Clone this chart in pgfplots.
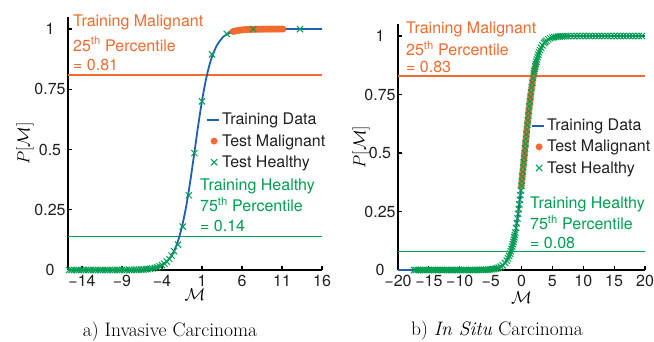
\documentclass[border=0pt]{standalone}
\usepackage{fontspec}
\usepackage{pgfplots}
\pgfplotsset{compat=1.18}
\newfontfamily\hv{TeX Gyre Heros}
\definecolor{myblue}{RGB}{30,95,175}
\definecolor{myorange}{RGB}{242,106,45}
\definecolor{mygreen}{RGB}{0,158,80}
\definecolor{txt}{RGB}{35,31,32}
\newcommand{\sz}{\fontsize{16}{19}\selectfont}

\pgfplotstableread{
M P
-15.75 0
-10 0
-8 0.0005
-6 0.0030
-5 0.0078
-4.5 0.0125
-4 0.0199
-3.5 0.0317
-3 0.050
-2.5 0.078
-2 0.120
-1.5 0.180
-1 0.260
-0.5 0.361
0 0.476
0.5 0.594
1 0.702
1.5 0.791
2 0.859
2.5 0.907
3 0.940
3.5 0.962
4 0.976
5 0.9906
6 0.9963
8 0.9995
10 1
16 1
}\trainA

\pgfplotstableread{
M P
4.9 0.990
5.1 0.9915
5.3 0.993
5.5 0.994
5.7 0.995
5.9 0.996
6.1 0.9967
6.3 0.9973
6.5 0.9978
6.7 0.9981
6.9 0.9985
7.1 0.9987
7.3 0.999
7.5 0.9992
7.7 0.9993
7.9 0.9994
8.1 0.9995
8.3 0.9996
8.5 0.9997
8.7 0.9997
8.9 0.9998
9.1 0.9998
9.3 0.9998
9.5 0.9999
9.7 0.9999
9.9 0.9999
10.1 1
10.3 1
10.5 1
10.7 1
10.9 1
11.1 1
}\maligA

\pgfplotstableread{
M P
-15.6 0
-15.3 0
-15.0 0
-14.7 0
-14.4 0
-14.1 0
-13.8 0
-13.5 0
-13.2 0
-12.9 0
-12.6 0
-12.3 0
-12.0 0
-11.7 0
-11.4 0
-11.1 0
-10.8 0
-10.5 0
-10.2 0
-9.9 0
-9.6 0.0001
-9.3 0.0001
-9.0 0.0002
-8.7 0.0002
-8.4 0.0003
-8.1 0.0004
-7.8 0.0005
-7.5 0.0007
-7.2 0.0009
-6.9 0.0013
-6.6 0.0017
-6.3 0.0023
-6.0 0.0030
-5.8 0.0037
-5.5 0.0049
-5.2 0.0065
-4.9 0.0086
-4.6 0.0114
-4.3 0.0151
-4.0 0.0199
-3.7 0.0263
-3.4 0.0347
-3.1 0.0457
-2.8 0.0598
-2.5 0.078
-2.0 0.105
-1.4 0.18
-0.65 0.31
0.05 0.485
1.0 0.70
2.25 0.895
4.1 0.98
7.4 1.0
13.25 1.0
}\healthA

\pgfplotstableread{
M P
-20 0
-9 0
-8 0.0001
-6 0.0008
-5 0.0024
-4 0.0070
-3.5 0.0121
-3 0.0208
-2.5 0.0356
-2 0.0601
-1.5 0.0998
-1 0.1611
-0.5 0.2497
0 0.3658
0.5 0.5
1 0.6342
1.5 0.7503
2 0.8389
2.5 0.9002
3 0.9399
3.5 0.9644
4 0.9792
4.5 0.9879
5 0.9930
6 0.9976
7 0.9992
9 0.9999
11 1
20 1
}\trainB

\pgfplotstableread{
M P
-0.023 0.36
0.055 0.38
0.132 0.40
0.206 0.42
0.281 0.44
0.355 0.46
0.427 0.48
0.5 0.5
0.573 0.52
0.645 0.54
0.719 0.56
0.794 0.58
0.868 0.60
0.945 0.62
1.023 0.64
1.103 0.66
1.185 0.68
1.270 0.70
1.358 0.72
1.451 0.74
1.548 0.76
1.651 0.78
1.760 0.80
1.878 0.82
2.007 0.84
2.150 0.86
2.311 0.88
}\maligB

\pgfplotstableread{
M P
-17.4 0
-17.1 0
-16.8 0
-16.5 0
-16.2 0
-15.9 0
-15.6 0
-15.3 0
-15.0 0
-14.7 0
-14.4 0
-14.1 0
-13.8 0
-13.5 0
-13.2 0
-12.9 0
-12.6 0
-12.3 0
-12.0 0
-11.7 0
-11.4 0
-11.1 0
-10.8 0
-10.5 0
-10.2 0
-9.9 0
-9.6 0
-9.3 0
-9.0 0
-8.7 0
-8.4 0.0001
-8.1 0.0001
-7.8 0.0001
-7.5 0.0001
-7.2 0.0002
-6.9 0.0003
-6.6 0.0004
-6.3 0.0006
-6.0 0.0008
-5.7 0.0011
-5.4 0.0015
-5.1 0.0021
-4.8 0.0029
-4.5 0.0041
-4.2 0.0057
-3.95 0.0075
-3.677 0.01
-3.35 0.0143
-3.038 0.02
-2.660 0.03
-2.389 0.04
-2.176 0.05
-2.002 0.06
-1.852 0.07
-1.720 0.08
-1.604 0.09
-1.497 0.10
-1.401 0.11
-1.311 0.12
-1.228 0.13
-1.150 0.14
-1.077 0.15
-1.007 0.16
-0.878 0.18
-0.760 0.20
-0.651 0.22
-0.548 0.24
-0.451 0.26
-0.358 0.28
-0.270 0.30
-0.185 0.32
-0.103 0.34
-0.023 0.36
0.055 0.38
0.132 0.40
0.206 0.42
0.281 0.44
0.355 0.46
0.427 0.48
0.5 0.50
0.573 0.52
0.645 0.54
0.719 0.56
0.794 0.58
0.868 0.60
0.945 0.62
1.023 0.64
1.103 0.66
1.185 0.68
1.270 0.70
1.358 0.72
1.451 0.74
1.548 0.76
1.651 0.78
1.760 0.80
1.878 0.82
2.007 0.84
2.077 0.85
2.150 0.86
2.228 0.87
2.311 0.88
2.401 0.89
2.497 0.90
2.604 0.91
2.720 0.92
2.852 0.93
3.002 0.94
3.176 0.95
3.389 0.96
3.660 0.97
3.831 0.975
4.038 0.98
4.35 0.9857
4.677 0.99
5.0 0.993
5.3 0.9949
5.6 0.9963
5.9 0.9974
6.2 0.9981
6.5 0.9986
6.8 0.999
7.1 0.9993
7.5 0.9995
8.0 0.9997
8.5 0.9998
9.0 0.9999
9.5 1
10.0 1
10.5 1
11.0 1
11.5 1
12.0 1
12.5 1
13.0 1
13.5 1
14.0 1
14.5 1
15.0 1
15.5 1
16.0 1
16.5 1
17.0 1
17.5 1
18.0 1
18.5 1
19.0 1
19.5 1
}\healthB

\pgfplotsset{
  myax/.style={
    scale only axis,
    axis lines*=left,
    axis line style={line width=2.6pt, black, -},
    ymin=0, ymax=1.05,
    ytick={0,0.25,0.5,0.75,1},
    yticklabels={0,0.25,0.5,0.75,1},
    tick align=inside,
    major tick length=4pt,
    tick style={line width=1.2pt, black},
    ticklabel style={font=\hv\sz, text=txt},
    yticklabel style={anchor=center, xshift=-18pt},
    xticklabel style={inner sep=0pt, yshift=-5.3pt},
    clip=false,
    xlabel={$\mathcal{M}$},
    ylabel={$P[\mathcal{M}]$},
    label style={font=\fontsize{18}{21}\selectfont, inner sep=0pt},
    legend cell align=left,
    legend style={draw=none, fill=none, font=\hv\sz, text=txt, inner sep=0pt, row sep=4pt},
  },
  lineimg/.style={legend image code/.code={\draw[##1] (0pt,0pt) -- (12pt,0pt);}},
  markimg/.style={legend image code/.code={\draw[##1] plot coordinates {(7pt,0pt)};}},
  hline/.style={draw=#1, color=#1, line width=1.5pt, forget plot, mark=none},
}

\begin{document}
\begin{tikzpicture}[x=1pt,y=1pt]
\path[use as bounding box] (0,0) rectangle (654,341);

\begin{axis}[myax,
  at={(68pt,71pt)}, anchor=south west,
  width=254pt, height=253pt,
  xmin=-15.75, xmax=16,
  xtick={-14,-9,-4,1,6,11,16},
  xticklabels={−14,−9,−4,1,6,11,16},
  xlabel style={at={(rel axis cs:0.5,-0.099)}, anchor=center},
  ylabel style={at={(rel axis cs:-0.169,0.5)}, anchor=center},
  legend style={at={(rel axis cs:0.5433,0.628)}, anchor=north west},
]
\addplot[hline=myorange] coordinates {(-15.75,0.81) (16,0.81)};
\addplot[hline=mygreen] coordinates {(-15.75,0.14) (16,0.14)};
\addplot[myblue, line width=1.8pt, smooth, lineimg] table[x=M,y=P] {\trainA};
\addlegendentry{Training Data}
\addplot[only marks, mark=*, mark size=3.2pt, mark options={draw=myorange, fill=myorange}, markimg] table[x=M,y=P] {\maligA};
\addlegendentry{Test Malignant}
\addplot[only marks, mark=x, mark size=4.4pt, mark options={draw=mygreen, line width=1pt}, markimg] table[x=M,y=P] {\healthA};
\addlegendentry{Test Healthy}
\end{axis}

\begin{axis}[myax,
  at={(398pt,71pt)}, anchor=south west,
  width=247pt, height=245.7pt,
  xmin=-20, xmax=20,
  xtick={-20,-15,-10,-5,0,5,10,15,20},
  xticklabels={−20,−15,−10,−5,0,5,10,15,20},
  xlabel style={at={(rel axis cs:0.5,-0.112)}, anchor=center},
  ylabel style={at={(rel axis cs:-0.15,0.5)}, anchor=center},
  legend style={at={(rel axis cs:0.5385,0.623)}, anchor=north west},
]
\addplot[hline=myorange] coordinates {(-20,0.83) (20,0.83)};
\addplot[hline=mygreen] coordinates {(-20,0.08) (20,0.08)};
\addplot[myblue, line width=1.8pt, smooth, lineimg] table[x=M,y=P] {\trainB};
\addlegendentry{Training Data}
\addplot[only marks, mark=*, mark size=3.2pt, mark options={draw=myorange, fill=myorange}, markimg] table[x=M,y=P] {\maligB};
\addlegendentry{Test Malignant}
\addplot[only marks, mark=x, mark size=4.4pt, mark options={draw=mygreen, line width=1pt}, markimg] table[x=M,y=P] {\healthB};
\addlegendentry{Test Healthy}
\end{axis}

% annotations
\begin{scope}[every node/.style={inner sep=0pt, anchor=base west, font=\hv\sz}]
\node[text=myorange] at (73,314.3) {Training Malignant};
\node[text=myorange] at (73,290) {25\textsuperscript{th} Percentile};
\node[text=myorange] at (73,271) {= 0.81};
\node[text=mygreen] at (200,151) {Training Healthy};
\node[text=mygreen] at (200,129.3) {75\textsuperscript{th} Percentile};
\node[text=mygreen] at (200,110) {= 0.14};
\node[text=myorange] at (406,307.7) {Training Malignant};
\node[text=myorange] at (406,285) {25\textsuperscript{th} Percentile};
\node[text=myorange] at (406,268.3) {= 0.83};
\node[text=mygreen] at (530,132.7) {Training Healthy};
\node[text=mygreen] at (530,111.7) {75\textsuperscript{th} Percentile};
\node[text=mygreen] at (530,93) {= 0.08};
\end{scope}
\node[anchor=base, inner sep=0pt, font=\fontsize{19.5}{23}\selectfont] at (170,5) {a) Invasive Carcinoma};
\node[anchor=base, inner sep=0pt, font=\fontsize{19.5}{23}\selectfont] at (497,6) {b) \textit{In Situ} Carcinoma};
\end{tikzpicture}
\end{document}
